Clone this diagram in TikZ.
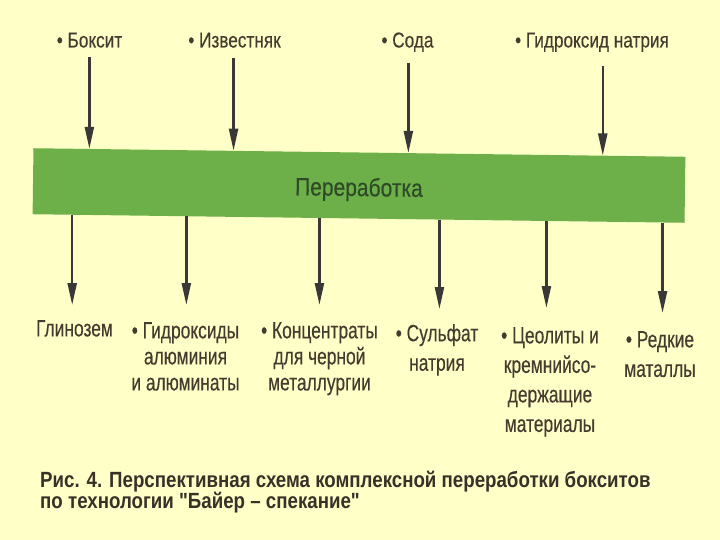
\documentclass[tikz,border=0pt]{standalone}
\usepackage{fontspec}
\setmainfont{Liberation Sans}[FakeStretch=0.80, FakeBold=0.3]
\newfontfamily\outfont{Liberation Sans}[FakeStretch=0.74, FakeBold=0.3]
\newfontfamily\barfont{Liberation Sans}[FakeStretch=0.84, FakeBold=0.3]
\newfontfamily\capfont{Liberation Sans}[FakeStretch=0.85]
\usetikzlibrary{arrows.meta,calc}
\definecolor{bg}{HTML}{FFFFC8}
\definecolor{bargreen}{HTML}{6DB049}
\definecolor{bartext}{HTML}{2E4A26}
\definecolor{lbl}{HTML}{463A2E}
\definecolor{captext}{HTML}{3A3028}
\definecolor{arrc}{HTML}{3A3836}
\begin{document}
\begin{tikzpicture}[x=1pt,y=-1pt,
  inlab/.style={text=lbl, inner sep=0pt, anchor=base, font=\fontsize{21.5}{25}\selectfont},
  outlab/.style={text=lbl, inner sep=0pt, align=center, anchor=north, font=\outfont\fontsize{23.5}{26}\selectfont},
  outlabw/.style={outlab, font=\outfont\fontsize{23.5}{29.5}\selectfont},
  arr/.style={draw=arrc, line width=2.3pt, -{Triangle[length=22pt,width=9pt]}},
  barbox/.style={fill=bargreen, minimum width=652pt, minimum height=66pt, inner sep=0pt,
    rotate=-0.75, text=bartext, font=\barfont\fontsize{25}{29}\selectfont}
]
\useasboundingbox (0,0) rectangle (720,540);
\fill[bg] (0,0) rectangle (720,540);

% inputs
\node[inlab] (i1) at (89.5,47.5) {\textbullet\ Боксит};
\node[inlab] (i2) at (234.5,47.5) {\textbullet\ Известняк};
\node[inlab] (i3) at (407.5,47.5) {\textbullet\ Сода};
\node[inlab] (i4) at (592,47.5) {\textbullet\ Гидроксид натрия};

% processing bar
\node[barbox] (bar) at (359,185.5) {\raisebox{-4pt}[\height][\depth]{Переработка}};

% top attachment points
\coordinate (t1) at ($(bar.north west)!0.086!(bar.north east)$);
\coordinate (t2) at ($(bar.north west)!0.307!(bar.north east)$);
\coordinate (t3) at ($(bar.north west)!0.575!(bar.north east)$);
\coordinate (t4) at ($(bar.north west)!0.873!(bar.north east)$);

\draw[arr] (t1 |- i1.south) ++(0,9) -- (t1);
\draw[arr] (t2 |- i2.south) ++(0,10) -- (t2);
\draw[arr] (t3 |- i3.south) ++(0,11) -- (t3);
\draw[arr] (t4 |- i4.south) ++(0,14) -- (t4);

% outputs
\node[outlab] (o1) at (74.5,320) {Глинозем};
\node[outlab] (o2) at (185.5,322) {\textbullet\ Гидроксиды\\алюминия\\и алюминаты};
\node[outlab] (o3) at (319.5,322) {\textbullet\ Концентраты\\для черной\\металлургии};
\node[outlabw] (o4) at (437,324) {\textbullet\ Сульфат\\натрия};
\node[outlabw] (o5) at (550,327) {\textbullet\ Цеолиты и\\кремнийсо-\\держащие\\материалы};
\node[outlabw] (o6) at (660,331) {\textbullet\ Редкие\\маталлы};

% bottom attachment points
\coordinate (b1) at ($(bar.south west)!0.061!(bar.south east)$);
\coordinate (b2) at ($(bar.south west)!0.236!(bar.south east)$);
\coordinate (b3) at ($(bar.south west)!0.440!(bar.south east)$);
\coordinate (b4) at ($(bar.south west)!0.624!(bar.south east)$);
\coordinate (b5) at ($(bar.south west)!0.788!(bar.south east)$);
\coordinate (b6) at ($(bar.south west)!0.966!(bar.south east)$);

\coordinate (e1) at (b1 |- o1.north);
\coordinate (e2) at (b2 |- o2.north);
\coordinate (e3) at (b3 |- o3.north);
\coordinate (e4) at (b4 |- o4.north);
\coordinate (e5) at (b5 |- o5.north);
\coordinate (e6) at (b6 |- o6.north);

\draw[arr] (b1) -- ($(e1)+(0,-15)$);
\draw[arr] (b2) -- ($(e2)+(0,-17)$);
\draw[arr] (b3) -- ($(e3)+(0,-17)$);
\draw[arr] (b4) -- ($(e4)+(0,-15)$);
\draw[arr] (b5) -- ($(e5)+(0,-19)$);
\draw[arr] (b6) -- ($(e6)+(0,-18)$);

% caption
\node[anchor=north west, align=left, inner sep=0pt, text=captext,
  font=\capfont\bfseries\fontsize{22}{21.5}\selectfont] (cap) at (40,470.5)
  {Рис. 4. Перспективная схема комплексной переработки бокситов\\по технологии "Байер – спекание"};
\end{tikzpicture}
\end{document}
